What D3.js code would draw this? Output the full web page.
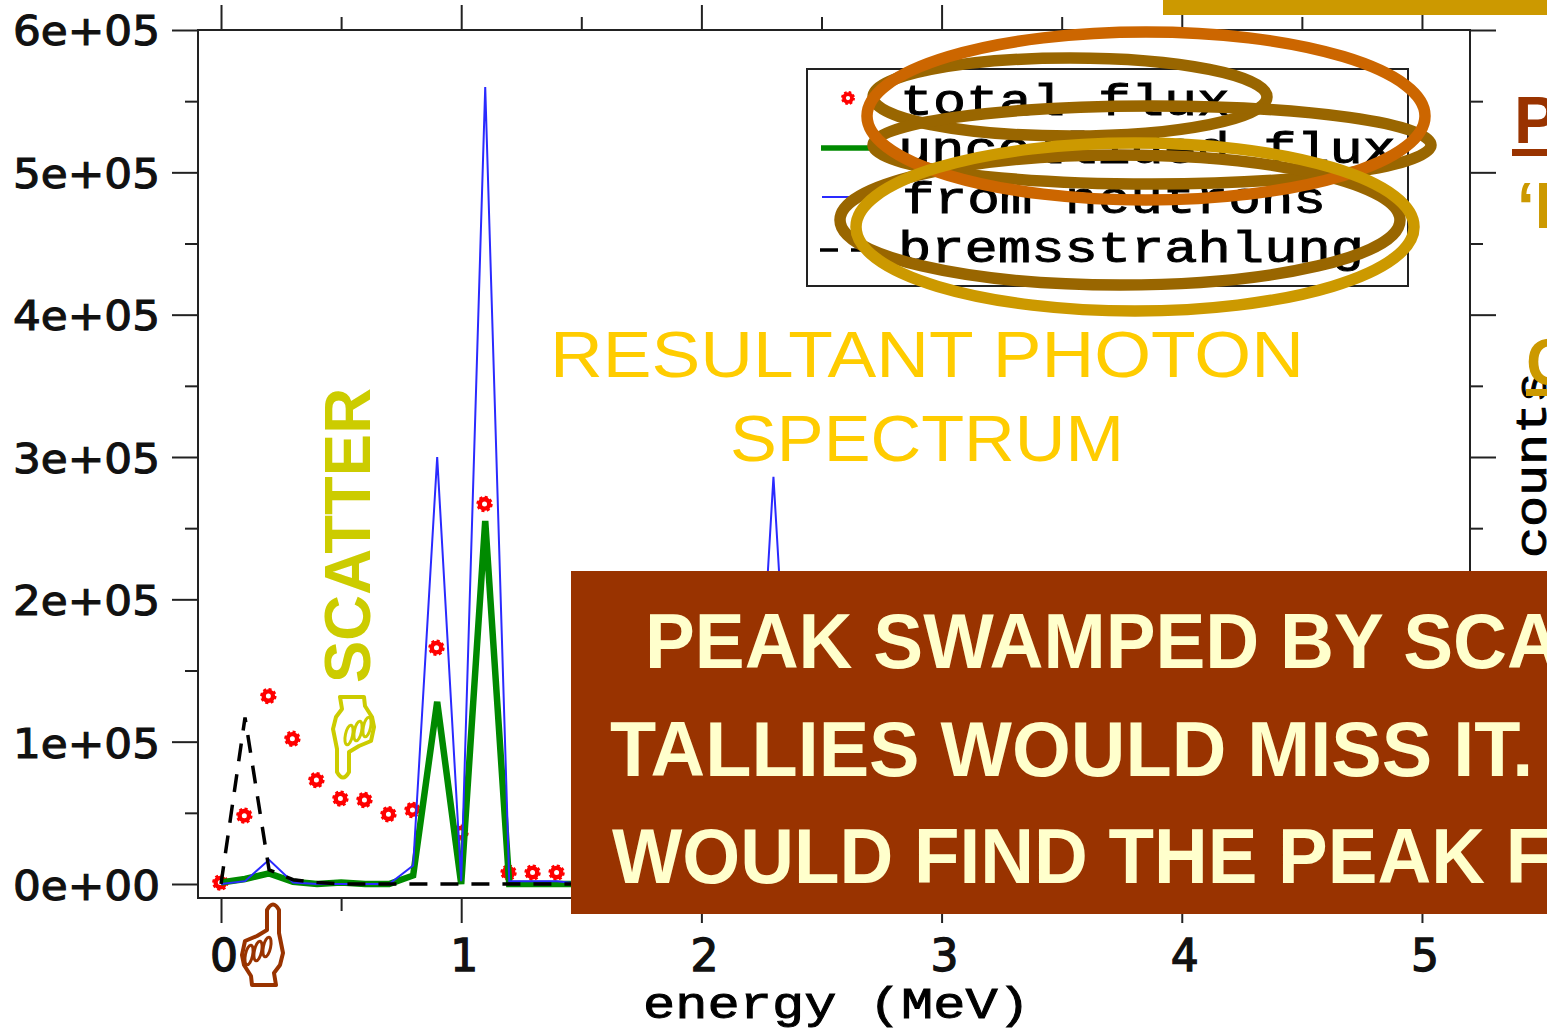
<!DOCTYPE html>
<html><head><meta charset="utf-8">
<script src="https://cdn.jsdelivr.net/npm/d3@7"></script>
<style>
html,body{margin:0;padding:0;background:#fff;overflow:hidden}
svg{display:block}
.mono{font-family:"Liberation Mono",monospace;fill:#000;stroke:#000;stroke-width:.9px}
.sans{font-family:"Liberation Sans",Arial,sans-serif}
</style></head><body>
<script>
// ---- data ----
const energy      = [0,0.1,0.2,0.3,0.4,0.5,0.6,0.7,0.8,0.9,1.0,1.1,1.2,1.3,1.4,1.5,1.6,1.7,1.8,1.9,2.0,2.1,2.2,2.3,2.4];
const uncollided  = [0.01,0.035,0.075,0.015,0,0.01,0,0,0.06,1.28,0,2.55,0,0,0,0,0,0,0,0,0,0,0,0,0];
const neutrons    = [0,0.02,0.17,0.01,0,0,0,0,0.13,3.0,0.02,5.6,0.02,0.02,0.02,0,0,0,0,0,0,0,0,2.86,0];
const bremss      = [0,1.17,0.1,0.03,0.01,0,0,0,0,0,0,0,0,0,0,0,0,0,0,0,0,0,0,0,0];
const fluxEnergy  = [0,0.1,0.2,0.3,0.4,0.5,0.6,0.7,0.8,0.9,1.0,1.1,1.2,1.3,1.4];
const totalFlux   = [0.01,0.48,1.32,1.02,0.73,0.6,0.59,0.49,0.52,1.66,0.36,2.67,0.08,0.08,0.08];
const yMajor      = [0,1,2,3,4,5,6];
const yMinor      = [0.5,1.5,2.5,3.5,4.5,5.5];
const xMajor      = [0,1,2,3,4,5];
const xMinor      = [0.5,1.5,2.5,3.5,4.5];
const yLabels     = ["0e+00","1e+05","2e+05","3e+05","4e+05","5e+05","6e+05"];
const legendNames = ["total flux","uncollided flux","from neutrons","bremsstrahlung"];
const titleLines  = ["RESULTANT PHOTON","SPECTRUM"];
const boxLines    = ["PEAK SWAMPED BY SCA","TALLIES WOULD MISS IT.","WOULD FIND THE PEAK F"];

const W=1547,H=1031;
const svg=d3.select("body").append("svg").attr("width",W).attr("height",H).attr("viewBox",`0 0 ${W} ${H}`);
const x=d3.scaleLinear().domain([-0.0958,5.2]).range([198,1470]);
const y=d3.scaleLinear().domain([-0.0984,6]).range([898,30]);
const INK="#222";

// frame
svg.append("rect").attr("x",198).attr("y",30).attr("width",1272).attr("height",868)
  .attr("fill","#fff").attr("stroke",INK).attr("stroke-width",2);

function axis(gen,vals,size,tx,fmt){
  const g=svg.append("g").attr("transform",tx)
    .call(gen.tickValues(vals).tickSizeInner(size).tickSizeOuter(0).tickFormat(fmt||(()=>"")));
  g.select(".domain").remove();
  g.selectAll("line").attr("stroke",INK).attr("stroke-width",2);
  return g;
}
axis(d3.axisBottom(x),xMajor,25,"translate(0,898)");
axis(d3.axisBottom(x),xMinor,13,"translate(0,898)");
axis(d3.axisTop(x),xMajor,25,"translate(0,30)");
axis(d3.axisTop(x),xMinor,13,"translate(0,30)");
axis(d3.axisLeft(y),yMajor,26,"translate(198,0)");
axis(d3.axisLeft(y),yMinor,13,"translate(198,0)");
axis(d3.axisRight(y),yMajor,26,"translate(1470,0)");
axis(d3.axisRight(y),yMinor,13,"translate(1470,0)");

// tick labels
svg.append("g").selectAll("text").data(yMajor).join("text")
  .attr("x",13).attr("y",d=>y(d)+15+(6-d)*0.25)
  .attr("textLength",147).attr("lengthAdjust","spacingAndGlyphs")
  .attr("font-family","DejaVu Sans").attr("font-size",41)
  .attr("fill","#111").attr("stroke","#111").attr("stroke-width",1.1)
  .text((d,i)=>yLabels[i]);
svg.append("g").selectAll("text").data(xMajor).join("text")
  .attr("x",d=>x(d)+3).attr("y",971).attr("text-anchor","middle")
  .attr("font-family","DejaVu Sans").attr("font-size",44)
  .attr("fill","#111").attr("stroke","#111").attr("stroke-width",1.3).text(d=>d);
svg.append("text").attr("class","mono").attr("x",643).attr("y",1018)
  .attr("font-size",44).attr("textLength",387).attr("lengthAdjust","spacingAndGlyphs").text("energy (MeV)");
svg.append("text").attr("class","mono").attr("transform","translate(1546,558) rotate(-90)")
  .attr("font-size",44).attr("textLength",186).attr("lengthAdjust","spacingAndGlyphs").text("counts");

// series
const line=vals=>d3.line().x((d,i)=>x(energy[i])).y(d=>y(d))(vals);
function marker(sel){
  sel.append("circle").attr("r",7).attr("fill","none").attr("stroke","#f00").attr("stroke-width",2.4).attr("stroke-dasharray","3 2.5");
  sel.append("circle").attr("r",4.7).attr("fill","#fff").attr("stroke","#f00").attr("stroke-width",4.4);
}
svg.append("g").selectAll("g").data(totalFlux).join("g")
  .attr("transform",(d,i)=>`translate(${x(fluxEnergy[i])-0.7},${y(d)})`).call(marker);
svg.append("path").attr("d",line(uncollided)).attr("fill","none").attr("stroke","#008a00").attr("stroke-width",6.5).attr("stroke-linejoin","miter");
svg.append("path").attr("d",line(neutrons)).attr("fill","none").attr("stroke","#2a2aff").attr("stroke-width",2);
svg.append("path").attr("d",line(bremss)).attr("fill","none").attr("stroke","#000").attr("stroke-width",3.5).attr("stroke-dasharray","18 13");

// legend
svg.append("rect").attr("x",807).attr("y",69).attr("width",601).attr("height",217).attr("fill","none").attr("stroke",INK).attr("stroke-width",2);
svg.append("g").attr("transform","translate(848,98) scale(.85)").call(marker);
svg.append("line").attr("x1",821).attr("x2",875).attr("y1",148).attr("y2",148).attr("stroke","#008a00").attr("stroke-width",5.5);
svg.append("line").attr("x1",822).attr("x2",870).attr("y1",197).attr("y2",197).attr("stroke","#2a2aff").attr("stroke-width",2);
svg.append("line").attr("x1",820).attr("x2",875).attr("y1",250).attr("y2",250).attr("stroke","#000").attr("stroke-width",3.5).attr("stroke-dasharray","18 13");
const legX=[900,898,902,898],legY=[115,163,213,262],legL=[330,498,424,466];
svg.append("g").selectAll("text").data(legendNames).join("text").attr("class","mono")
  .attr("x",(d,i)=>legX[i]).attr("y",(d,i)=>legY[i]).attr("font-size",44)
  .attr("textLength",(d,i)=>legL[i]).attr("lengthAdjust","spacingAndGlyphs").text(d=>d);

// rings
const rings=[[1070,97,197,39,"#996600"],[1152,145,279,39,"#996600"],[1120,220,280,65,"#996600"],
             [1146,116,279,84,"#CC6600"],[1135,227,279,84,"#CC9900"]];
svg.append("g").selectAll("ellipse").data(rings).join("ellipse")
  .attr("cx",d=>d[0]).attr("cy",d=>d[1]).attr("rx",d=>d[2]).attr("ry",d=>d[3])
  .attr("fill","none").attr("stroke",d=>d[4]).attr("stroke-width",11.5);

// title
const titleX=[550,730],titleL=[754,394];
svg.append("g").selectAll("text").data(titleLines).join("text").attr("class","sans")
  .attr("x",(d,i)=>titleX[i]).attr("y",(d,i)=>377+84*i)
  .attr("textLength",(d,i)=>titleL[i]).attr("lengthAdjust","spacingAndGlyphs")
  .attr("font-size",65).attr("fill","#FFCC00").text(d=>d);

// SCATTER
svg.append("text").attr("class","sans").attr("transform","translate(370,683) rotate(-90)")
  .attr("font-size",64).attr("font-weight","bold").attr("fill","#CCCC00")
  .attr("textLength",295).attr("lengthAdjust","spacingAndGlyphs").text("SCATTER");

// pointing hands
const hand=d3.path();
hand.moveTo(267,930);hand.lineTo(267,910);hand.quadraticCurveTo(273,899,279,910);hand.lineTo(279,933);
hand.lineTo(283,953);hand.lineTo(280,965);hand.lineTo(274,973);hand.lineTo(276,985);hand.lineTo(252,985);hand.lineTo(251,976);
hand.lineTo(244,965);hand.lineTo(242,955);hand.lineTo(245,941);hand.lineTo(257,936);hand.closePath();
const curls=[[249,955],[258,951],[267,947]];
function drawHand(tx,c){
  const g=svg.append("g").attr("transform",tx).attr("fill","none").attr("stroke",c).attr("stroke-width",4).attr("stroke-linejoin","round").attr("stroke-linecap","round");
  g.append("path").attr("d",hand.toString()).attr("fill","#fff");
  g.selectAll("ellipse").data(curls).join("ellipse").attr("transform",d=>`translate(${d[0]},${d[1]}) rotate(12)`)
    .attr("rx",3.6).attr("ry",10).attr("fill","#fff").attr("stroke-width",3);
}
drawHand("translate(0,0)","#993300");
drawHand("translate(616,1682) rotate(180)","#CCCC00");

// right-side cut-off text
svg.append("rect").attr("x",1163).attr("y",0).attr("width",384).attr("height",15).attr("fill","#CC9900");
const side=svg.append("g").attr("class","sans").attr("font-weight","bold");
side.append("text").attr("x",1514).attr("y",143).attr("font-size",66).attr("fill","#993300").text("P");
side.append("rect").attr("x",1512).attr("y",149).attr("width",35).attr("height",7).attr("fill","#993300");
side.append("text").attr("x",1517).attr("y",228).attr("font-size",64).attr("fill","#CC9900").text("‘I");
side.append("text").attr("x",1526).attr("y",385).attr("font-size",66).attr("fill","#CC9900").text("C");
side.append("rect").attr("x",1526).attr("y",389).attr("width",21).attr("height",7).attr("fill","#CC9900");

// callout box
svg.append("rect").attr("x",571).attr("y",571).attr("width",976).attr("height",343).attr("fill","#993300");
const boxX=[645,610,612],boxY=[668,776,883],boxF=[0.958,0.97,0.955];
svg.append("g").selectAll("text").data(boxLines).join("text").attr("class","sans")
  .attr("transform",(d,i)=>`translate(${boxX[i]},${boxY[i]}) scale(${boxF[i]},1)`)
  .attr("font-size",78).attr("font-weight","bold")
  .attr("fill","#FFFFCC").text(d=>d);
</script>
</body></html>
